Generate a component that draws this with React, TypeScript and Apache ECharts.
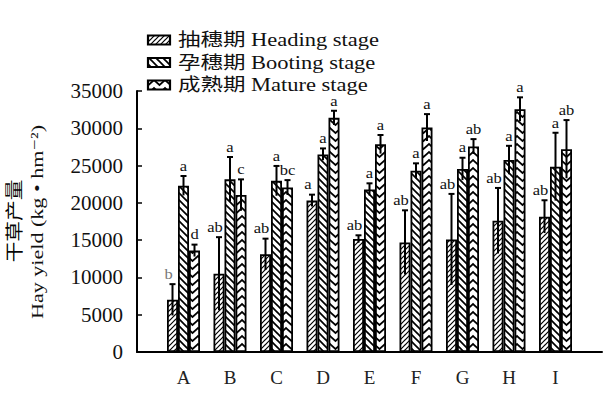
import React, { useEffect, useRef } from "react";
import * as echarts from "echarts";

const categories = ["", "A", "B", "C", "D", "E", "F", "G", "H", "I", ""];
const seriesNames = ["抽穗期 Heading stage", "孕穗期 Booting stage", "成熟期 Mature stage"];
const heading = [7000, 10500, 13100, 20300, 15150, 14700, 15100, 17600, 18150];
const headingErr = [2100, 4900, 2100, 800, 500, 4300, 6100, 4400, 2200];
const headingSig = ["b", "ab", "ab", "a", "ab", "ab", "ab", "ab", "ab"];
const booting = [22300, 23150, 22950, 26500, 21800, 24300, 24550, 25750, 24850];
const bootingErr = [1300, 3000, 2000, 800, 820, 1000, 1500, 1900, 4550];
const bootingSig = ["a", "a", "a", "a", "a", "a", "a", "a", "a"];
const mature = [13600, 21050, 22050, 31400, 27850, 30100, 27550, 32550, 27200];
const matureErr = [800, 2100, 1000, 950, 1250, 1800, 1000, 1600, 3900];
const matureSig = ["d", "c", "bc", "a", "a", "a", "ab", "a", "ab"];
const yTicks = { min: 0, max: 35000, interval: 5000 };
const yTitleCn = "干草产量";
const yTitleEn = "Hay yield (kg • hm⁻²)";

const FONT = "'Liberation Serif', 'Times New Roman', 'DejaVu Serif', 'Noto Sans CJK SC', serif";
const BAR_W = 11;

function makePattern(kind: string) {
  const c = document.createElement("canvas");
  let w = 5, h = 5;
  if (kind === "booting") { w = 7; h = 7; }
  if (kind === "mature") { w = 11; h = 8; }
  c.width = w; c.height = h;
  const ctx = c.getContext("2d")!;
  ctx.fillStyle = "#fff";
  ctx.fillRect(0, 0, w, h);
  ctx.strokeStyle = "#000";
  ctx.lineCap = "square";
  if (kind === "heading") {
    ctx.lineWidth = 1.2;
    for (const o of [-w, 0, w]) {
      ctx.beginPath(); ctx.moveTo(o, h); ctx.lineTo(o + w, 0); ctx.stroke();
    }
  } else if (kind === "booting") {
    ctx.lineWidth = 1.7;
    for (const o of [-w, 0, w]) {
      ctx.beginPath(); ctx.moveTo(o, 0); ctx.lineTo(o + w, h); ctx.stroke();
    }
  } else {
    ctx.lineWidth = 1.7;
    for (const o of [-h, 0, h]) {
      ctx.beginPath(); ctx.moveTo(0, o); ctx.lineTo(w / 2, o + 5); ctx.lineTo(w, o); ctx.stroke();
    }
  }
  return { image: c, repeat: "repeat", imageWidth: w, imageHeight: h } as any;
}

const pad = (arr: number[]) => ["-", ...arr, "-"];

export default function App() {
  const ref = useRef<HTMLDivElement>(null);
  useEffect(() => {
    if (!ref.current) return;
    const chart = echarts.init(ref.current, null, { renderer: "svg" });
    const values = [heading, booting, mature];
    const errs = [headingErr, bootingErr, matureErr];
    const sigs = [headingSig, bootingSig, matureSig];
    const patterns = [makePattern("heading"), makePattern("booting"), makePattern("mature")];

    const errData: number[][] = [];
    const errLabels: string[] = [];
    for (let s = 0; s < 3; s++) {
      for (let i = 0; i < values[s].length; i++) {
        errData.push([i + 1, values[s][i], errs[s][i], s]);
        errLabels.push(sigs[s][i]);
      }
    }

    const barSeries = values.map((v, s) => ({
      type: "bar",
      name: seriesNames[s],
      data: pad(v),
      barWidth: BAR_W,
      barGap: "0%",
      itemStyle: { color: patterns[s], borderColor: "#000", borderWidth: 1.8 },
    }));

    const legendGraphics: any[] = [];
    seriesNames.forEach((name, s) => {
      const cy = 40 + s * 22.5;
      legendGraphics.push({
        type: "rect",
        shape: { x: 148, y: cy - 4.5, width: 22, height: 9 },
        style: { fill: patterns[s], stroke: "#000", lineWidth: 2.2 },
      });
      legendGraphics.push({
        type: "text",
        x: 178,
        y: cy,
        scaleX: 1.25,
        style: { text: name, fontFamily: FONT, fontSize: 18, fill: "#111", align: "left", verticalAlign: "middle" },
      });
    });

    chart.setOption({
      animation: false,
      grid: { left: 137, right: 14, top: 91, bottom: 41, outerBoundsMode: "none" },
      graphic: [
        ...legendGraphics,
        {
          type: "text",
          x: 15,
          y: 221,
          rotation: Math.PI / 2,
          scaleX: 1.15,
          style: { text: yTitleCn, fontFamily: FONT, fontSize: 18, fill: "#000", opacity: 0.99, align: "center", verticalAlign: "middle" },
        },
        {
          type: "text",
          x: 37,
          y: 222,
          rotation: Math.PI / 2,
          scaleX: 1.3,
          style: { text: yTitleEn, fontFamily: FONT, fontSize: 17, fill: "#111", align: "center", verticalAlign: "middle" },
        },
      ],
      xAxis: {
        type: "category",
        data: categories,
        boundaryGap: false,
        axisLine: { lineStyle: { color: "#000", width: 2 } },
        axisTick: { show: false },
        axisLabel: { interval: 0, fontFamily: FONT, fontSize: 19, color: "#222", margin: 16 },
      },
      yAxis: {
        type: "value",
        min: yTicks.min,
        max: yTicks.max,
        interval: yTicks.interval,
        splitLine: { show: false },
        axisLine: { show: true, lineStyle: { color: "#000", width: 2 } },
        axisTick: { show: true, inside: true, length: 5, lineStyle: { color: "#000", width: 1.5 } },
        axisLabel: { fontFamily: FONT, fontSize: 21, color: "#111", margin: 14, formatter: (v: number) => String(v) },
      },
      series: [
        ...barSeries,
        {
          type: "custom",
          data: errData,
          encode: { x: 0, y: 1 },
          z: 5,
          renderItem: (params: any, api: any) => {
            const ci = api.value(0);
            const v = api.value(1);
            const e = api.value(2);
            const s = api.value(3);
            const off = (s - 1) * BAR_W;
            const top = api.coord([ci, v + e]);
            const bot = api.coord([ci, v - e]);
            const x = top[0] + off;
            const label = errLabels[params.dataIndex];
            const dx = s === 0 ? -4 : 0;
            return {
              type: "group",
              children: [
                { type: "line", shape: { x1: x, y1: top[1], x2: x, y2: bot[1] }, style: { stroke: "#000", lineWidth: 2 } },
                { type: "line", shape: { x1: x - 3, y1: top[1], x2: x + 3, y2: top[1] }, style: { stroke: "#000", lineWidth: 2 } },
                {
                  type: "text",
                  x: x + dx,
                  y: top[1] - 3,
                  scaleX: 1.1,
                  style: {
                    text: label,
                    fill: label === "b" ? "#777" : "#111",
                    fontFamily: FONT,
                    fontSize: 15,
                    align: "center",
                    verticalAlign: "bottom",
                  },
                },
              ],
            };
          },
        },
      ],
    });
    return () => chart.dispose();
  }, []);
  return <div ref={ref} style={{ position: "fixed", left: 0, top: 0, width: 616, height: 393, background: "#fff" }} />;
}
